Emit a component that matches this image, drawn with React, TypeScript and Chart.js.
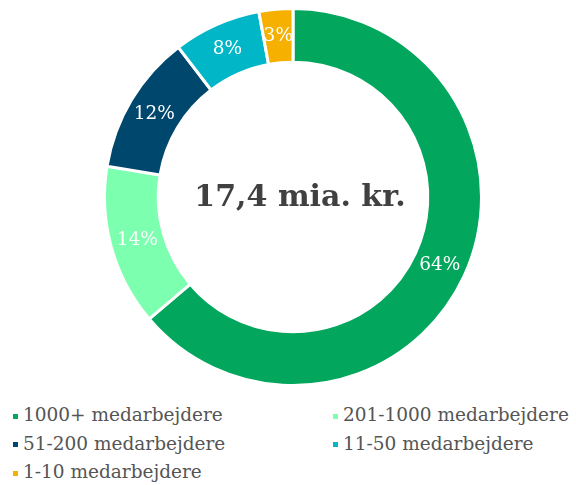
import React, { useEffect, useRef } from "react";
import { Chart, registerables } from "chart.js";

Chart.register(...registerables);

const categories = [
  "1000+ medarbejdere",
  "201-1000 medarbejdere",
  "51-200 medarbejdere",
  "11-50 medarbejdere",
  "1-10 medarbejdere",
];
const shares = [63.8, 13.8, 12.0, 7.5, 2.9];
const colors = ["#02a65c", "#7dffb0", "#00476d", "#00b6c7", "#f5b000"];
const centerLabel = "17,4 mia. kr.";

const SERIF = "'DejaVu Serif', Georgia, serif";

const labelPlugin = {
  id: "sliceLabels",
  afterDatasetsDraw(chart: any) {
    const ctx = chart.ctx;
    const meta = chart.getDatasetMeta(0);
    ctx.save();
    ctx.fillStyle = "#ffffff";
    ctx.font = `18.5px ${SERIF}`;
    ctx.textAlign = "center";
    ctx.textBaseline = "middle";
    meta.data.forEach((arc: any, i: number) => {
      const p = arc.tooltipPosition();
      ctx.fillText(`${Math.round(shares[i])}%`, p.x, p.y);
    });
    const a = meta.data[0];
    ctx.fillStyle = "#404040";
    ctx.font = `bold 30px ${SERIF}`;
    ctx.fillText(centerLabel, a.x + 7, a.y + 1);
    ctx.restore();
  },
};

export default function App() {
  const ref = useRef<HTMLCanvasElement>(null);
  useEffect(() => {
    const chart = new Chart(ref.current!, {
      type: "doughnut",
      data: {
        labels: categories,
        datasets: [
          {
            data: shares,
            backgroundColor: colors,
            borderColor: "#ffffff",
            borderWidth: 3,
          },
        ],
      },
      options: {
        animation: false,
        responsive: false,
        cutout: "71.5%",
        layout: { padding: { left: 10, right: 0, top: 7, bottom: 3 } },
        plugins: {
          legend: { display: false },
          tooltip: { enabled: false },
        },
      },
      plugins: [labelPlugin],
    });
    return () => chart.destroy();
  }, []);

  const legendItem = (i: number) => (
    <div
      key={i}
      style={{ display: "flex", alignItems: "center", height: 28.5 }}
    >
      <span
        style={{
          display: "inline-block",
          width: 5,
          height: 5,
          background: colors[i],
          marginRight: 5,
          marginTop: 2,
        }}
      />
      <span>{categories[i]}</span>
    </div>
  );

  return (
    <div
      style={{
        position: "fixed",
        left: 0,
        top: 0,
        width: 576,
        height: 485,
        background: "#fff",
        overflow: "hidden",
      }}
    >
      <canvas
        ref={ref}
        width={576}
        height={390}
        style={{ position: "absolute", left: 0, top: 0 }}
      />
      <div
        style={{
          position: "absolute",
          left: 13,
          top: 401,
          width: 563,
          display: "grid",
          gridTemplateColumns: "320px 243px",
          fontFamily: SERIF,
          fontSize: 18.5,
          color: "#555555",
          lineHeight: "28.5px",
          whiteSpace: "nowrap",
        }}
      >
        {categories.map((_, i) => legendItem(i))}
      </div>
    </div>
  );
}
